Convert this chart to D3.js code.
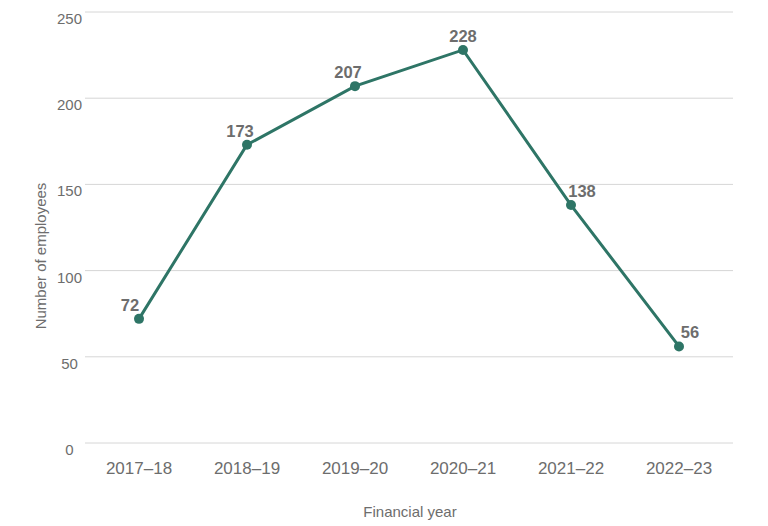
<!DOCTYPE html>
<html>
<head>
<meta charset="utf-8">
<script src="https://cdn.jsdelivr.net/npm/d3@7"></script>
<style>
  body { margin: 0; background: #fff; }
  text { font-family: "Liberation Sans", Arial, sans-serif; }
</style>
</head>
<body>
<svg id="chart" width="768" height="526"></svg>
<script>
let years = ['2017–18', '2018–19', '2019–20', '2020–21', '2021–22', '2022–23'];
let employees = [72, 173, 207, 228, 138, 56];
let yTicks = [0, 50, 100, 150, 200, 250];

let svg = d3.select('#chart');
let margin = {left: 85, right: 35, top: 12, bottom: 83};
let width = 768, height = 526;

let x = d3.scaleBand()
  .domain(years)
  .range([margin.left, width - margin.right]);

let y = d3.scaleLinear()
  .domain([0, 250])
  .range([height - margin.bottom, margin.top]);

let cx = (d, i) => x(years[i]) + x.bandwidth() / 2;

// gridlines
svg.append('g')
  .selectAll('line')
  .data(yTicks)
  .join('line')
  .attr('x1', margin.left)
  .attr('x2', width - margin.right)
  .attr('y1', d => y(d))
  .attr('y2', d => y(d))
  .attr('stroke', '#d6d6d6')
  .attr('stroke-width', 1);

// y tick labels
svg.append('g')
  .selectAll('text')
  .data(yTicks)
  .join('text')
  .attr('x', 69.5)
  .attr('y', d => y(d) + 12)
  .attr('text-anchor', 'middle')
  .attr('font-size', 15)
  .attr('fill', '#6d6d6d')
  .text(d => d);

// x tick labels
svg.append('g')
  .selectAll('text')
  .data(years)
  .join('text')
  .attr('x', d => x(d) + x.bandwidth() / 2)
  .attr('y', 474)
  .attr('text-anchor', 'middle')
  .attr('font-size', 17)
  .attr('fill', '#6d6d6d')
  .text(d => d);

// axis titles
svg.append('text')
  .attr('x', 410)
  .attr('y', 517)
  .attr('text-anchor', 'middle')
  .attr('font-size', 15)
  .attr('fill', '#6d6d6d')
  .text('Financial year');

svg.append('text')
  .attr('transform', 'translate(45.5,256) rotate(-90)')
  .attr('text-anchor', 'middle')
  .attr('font-size', 15)
  .attr('fill', '#6d6d6d')
  .text('Number of employees');

// line
let line = d3.line()
  .x(cx)
  .y(d => y(d));

svg.append('path')
  .datum(employees)
  .attr('d', line)
  .attr('fill', 'none')
  .attr('stroke', '#2e7566')
  .attr('stroke-width', 3);

svg.append('g')
  .selectAll('circle')
  .data(employees)
  .join('circle')
  .attr('cx', cx)
  .attr('cy', d => y(d))
  .attr('r', 5)
  .attr('fill', '#2e7566');

// value labels, nudged off the line depending on slope
function nudge(i) {
  let prev = employees[i - 1], next = employees[i + 1];
  if (prev === undefined) return -9;
  if (next !== undefined && employees[i] > prev && employees[i] > next) return 0;
  if (employees[i] > prev) return employees[i] - prev > 30 ? -7 : -3;
  return 11;
}

svg.append('g')
  .selectAll('text')
  .data(employees)
  .join('text')
  .attr('x', (d, i) => cx(d, i) + nudge(i))
  .attr('y', d => y(d) - 8)
  .attr('text-anchor', 'middle')
  .attr('font-size', 16.5)
  .attr('font-weight', 'bold')
  .attr('fill', '#6d6d6d')
  .text(d => d);
</script>
</body>
</html>
